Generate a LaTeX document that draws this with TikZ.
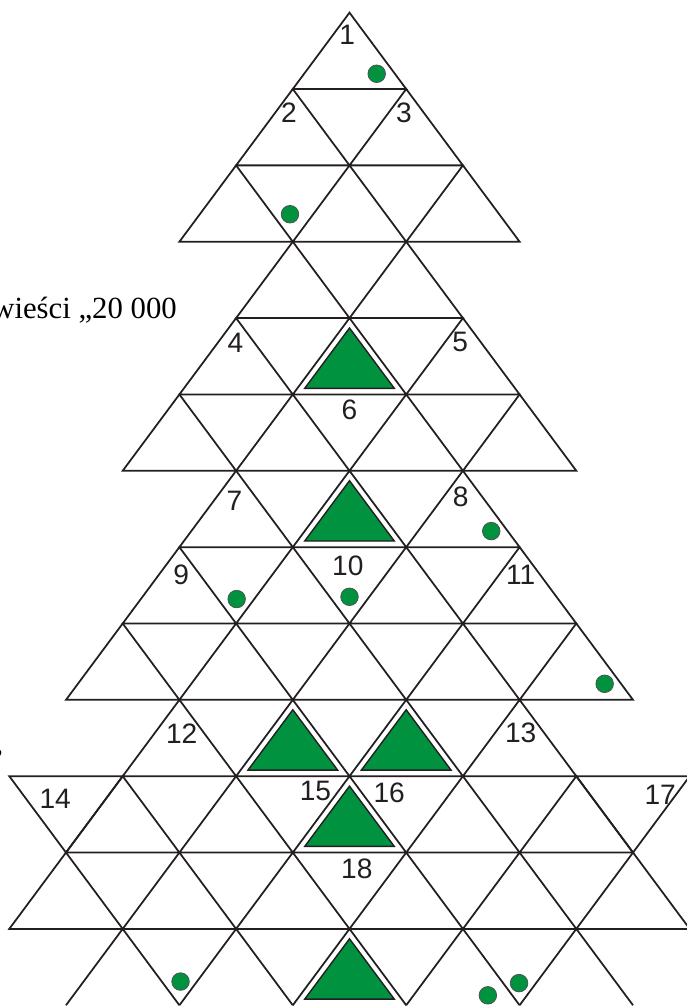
\documentclass[tikz,border=0pt]{standalone}
\usepackage{fontspec}
\setmainfont{Liberation Serif}
\setsansfont{Liberation Sans}
\definecolor{igla}{RGB}{0,146,63}
\definecolor{kontur}{RGB}{35,31,32}

\begin{document}
\begin{tikzpicture}[
    x=1.134cm, y=1.527cm,
    % Style siatki, choinek, bombek i numerow
    treeline/.style={line width=1pt, draw=kontur},
    choinka/.style={fill=igla, draw=kontur, line width=0.8pt},
    bombka/.style={fill=igla, draw=kontur!80, line width=0.4pt},
    num/.style={font=\sffamily\fontsize{16}{16}\selectfont, text=kontur, inner sep=0pt},
    opis/.style={font=\fontsize{17.5}{21}\selectfont, text=black, inner sep=0pt}
]

% Kadr (wycinek strony)
\useasboundingbox (-6.164,0.166) rectangle (5.952,-13.010);
\clip (-6.164,0.166) rectangle (5.952,-13.010);
\fill[white] (-6.164,0.166) rectangle (5.952,-13.010);

% ---------------------------------------------------------
% 1. SIATKA TROJKATOW (pietra choinki)
% ---------------------------------------------------------
% Pietro 1 (wierzcholek)
\foreach \r/\n in {0/0, 1/1, 2/2}
  \foreach \k in {0,...,\n} \draw[treeline] ({2*\k-\n},-\r) -- ++(-1,-1) -- ++(2,0) -- cycle;

% Pietro 2
\foreach \r/\n in {3/1, 4/2, 5/3}
  \foreach \k in {0,...,\n} \draw[treeline] ({2*\k-\n},-\r) -- ++(-1,-1) -- ++(2,0) -- cycle;

% Pietro 3
\foreach \r/\n in {6/2, 7/3, 8/4}
  \foreach \k in {0,...,\n} \draw[treeline] ({2*\k-\n},-\r) -- ++(-1,-1) -- ++(2,0) -- cycle;

% Pietro 4 i dolna gwiazda
\foreach \r/\n in {9/3, 10/4, 11/5}
  \foreach \k in {0,...,\n} \draw[treeline] ({2*\k-\n},-\r) -- ++(-1,-1) -- ++(2,0) -- cycle;
\foreach \s in {-1,1} \draw[treeline] (6*\s,-10) -- (4*\s,-10) -- (5*\s,-11) -- cycle;

% Ostatni rzad (bez podstawy)
\foreach \i in {-4,-2,...,4} \draw[treeline] ({\i-1},-13) -- (\i,-12) -- ({\i+1},-13);

% ---------------------------------------------------------
% 2. ZIELONE TROJKATY I BOMBKI
% ---------------------------------------------------------
\foreach \i/\r in {0/4, 0/6, -1/9, 1/9, 0/10, 0/12}
  \draw[choinka] (\i,{-\r-0.13}) -- ({\i-0.79},{-\r-0.92}) -- ({\i+0.79},{-\r-0.92}) -- cycle;

\foreach \x/\y in {0.48/-0.80, -1.05/-2.64, 2.50/-6.79, -1.99/-7.68, 0/-7.65,
                   4.50/-8.79, -2.98/-12.69, 2.44/-12.87, 2.99/-12.71}
  \draw[bombka] (\x,\y) circle[radius=0.176cm];

% ---------------------------------------------------------
% 3. NUMERY POL
% ---------------------------------------------------------
\node[num] (n1) at (-0.04,-0.29) {1};
\node[num] (n2) at (-1.07,-1.31) {2};
\node[num] (n3) at (0.96,-1.31) {3};
\node[num] (n4) at (-2.01,-4.33) {4};
\node[num] (n5) at (1.95,-4.31) {5};
\node[num] (n6) at (0,-5.20) {6};
\node[num] (n7) at (-2.03,-6.40) {7};
\node[num] (n8) at (1.96,-6.34) {8};
\node[num] (n9) at (-2.97,-7.36) {9};
\node[num] (n10) at (-0.03,-7.25) {10};
\node[num] (n11) at (3.02,-7.36) {11};
\node[num] (n12) at (-2.96,-9.44) {12};
\node[num] (n13) at (3.02,-9.43) {13};
\node[num] (n14) at (-5.19,-10.29) {14};
\node[num] (n15) at (-0.60,-10.20) {15};
\node[num] (n16) at (0.70,-10.22) {16};
\node[num] (n17) at (5.48,-10.25) {17};
\node[num] (n18) at (0.13,-11.21) {18};

% Resztki tekstu z lewej krawedzi
\node[opis, anchor=base east] (wiesci) at (-3.04,-4.01) {wieści „20 000};
\node[opis, anchor=base east] (przecinek) at (-6.10,-9.70) {,};

\end{tikzpicture}
\end{document}
